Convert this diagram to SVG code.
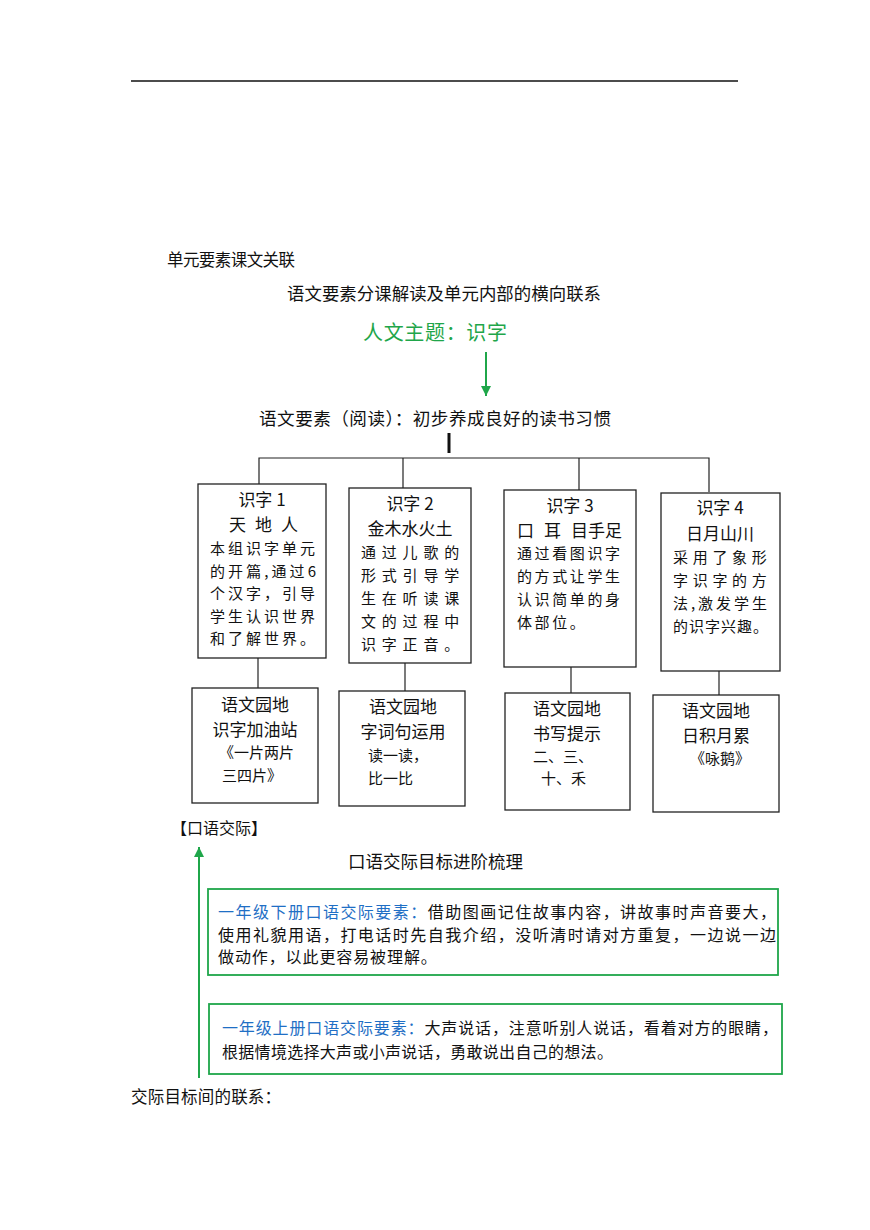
<svg xmlns="http://www.w3.org/2000/svg" width="870" height="1230" viewBox="0 0 870 1230">
<style>
text{font-family:"Noto Sans CJK SC","Liberation Sans",sans-serif;fill:#111}
.h{font-size:16.5px}
.t{font-size:17px;text-anchor:middle}
.b{font-size:15px}
.box{fill:#fff;stroke:#222;stroke-width:1.3}
.gbox{fill:#fff;stroke:#1fa64a;stroke-width:1.8}
.ln{stroke:#222;stroke-width:1.2;fill:none}
.green{fill:#1fa64a}
.blue{fill:#1f6fc5}
.p{font-size:16px}
</style>
<defs>
<marker id="ga" markerWidth="10" markerHeight="10" refX="10" refY="5" orient="auto" markerUnits="userSpaceOnUse" viewBox="0 0 10 10">
<path d="M0,0 L10,5 L0,10 z" fill="#1fa64a"/>
</marker>
</defs>
<line x1="131" y1="81" x2="738" y2="81" stroke="#111" stroke-width="1.3"/>
<text class="h" x="167" y="266" textLength="128" lengthAdjust="spacing">单元要素课文关联</text>
<text class="h" x="287" y="300" style="font-size:17.4px" textLength="314" lengthAdjust="spacing">语文要素分课解读及单元内部的横向联系</text>
<text x="363" y="340" style="font-size:20px" class="green" textLength="144" lengthAdjust="spacing">人文主题：识字</text>
<text class="h" x="259" y="425" style="font-size:17.6px" textLength="352" lengthAdjust="spacing">语文要素（阅读）：初步养成良好的读书习惯</text>

<g id="connectors">
<line x1="486" y1="352" x2="486" y2="396" stroke="#1fa64a" stroke-width="2" marker-end="url(#ga)"/>
<line x1="449" y1="433" x2="449" y2="453" stroke="#111" stroke-width="3"/>
<polyline class="ln" points="259,484 259,458 709,458 709,492"/>
<line class="ln" x1="403" y1="458" x2="403" y2="488"/>
<line class="ln" x1="579" y1="458" x2="579" y2="490"/>
<line class="ln" x1="258" y1="658" x2="258" y2="688"/>
<line class="ln" x1="405" y1="663" x2="405" y2="691"/>
<line class="ln" x1="571" y1="667" x2="571" y2="693"/>
<line class="ln" x1="719" y1="671" x2="719" y2="695"/>
<line x1="199" y1="1078" x2="199" y2="847" stroke="#1fa64a" stroke-width="2" marker-end="url(#ga)"/>
</g>

<g id="n1">
<rect class="box" x="198" y="484" width="128" height="174"/>
<text class="t" x="262" y="506">识字 1</text>
<text class="t" style="text-anchor:start"><tspan x="229" y="531">天</tspan><tspan x="255" y="531">地</tspan><tspan x="281" y="531">人</tspan></text>
<text class="b" x="210" y="554" textLength="105" lengthAdjust="spacing">本组识字单元</text>
<text class="b" x="210" y="577" textLength="106" lengthAdjust="spacing">的开篇,通过6</text>
<text class="b" x="210" y="599" textLength="105" lengthAdjust="spacing">个汉字，引导</text>
<text class="b" x="210" y="622" textLength="105" lengthAdjust="spacing">学生认识世界</text>
<text class="b" x="210" y="644" textLength="105" lengthAdjust="spacing">和了解世界。</text>
</g>

<g id="n2">
<rect class="box" x="349" y="488" width="122" height="175"/>
<text class="t" x="410" y="510">识字 2</text>
<text class="t" x="410" y="535">金木水火土</text>
<text class="b" x="361" y="558" style="letter-spacing:5.8px">通过儿歌的</text>
<text class="b" x="361" y="581" style="letter-spacing:5.8px">形式引导学</text>
<text class="b" x="361" y="604" style="letter-spacing:5.8px">生在听读课</text>
<text class="b" x="361" y="627" style="letter-spacing:5.8px">文的过程中</text>
<text class="b" x="361" y="650" style="letter-spacing:5.8px">识字正音。</text>
</g>

<g id="n3">
<rect class="box" x="504" y="490" width="132" height="177"/>
<text class="t" x="570" y="512">识字 3</text>
<text class="t" style="text-anchor:start"><tspan x="517" y="537">口</tspan><tspan x="544" y="537">耳</tspan><tspan x="571" y="537">目手足</tspan></text>
<text class="b" x="517" y="559" style="letter-spacing:2.6px">通过看图识字</text>
<text class="b" x="517" y="582" style="letter-spacing:2.6px">的方式让学生</text>
<text class="b" x="517" y="605" style="letter-spacing:2.6px">认识简单的身</text>
<text class="b" x="517" y="628" style="letter-spacing:2.6px">体部位。</text>
</g>

<g id="n4">
<rect class="box" x="661" y="493" width="119" height="178"/>
<text class="t" x="720" y="514">识字 4</text>
<text class="t" x="720" y="540">日月山川</text>
<text class="b" x="673" y="563" style="letter-spacing:4.7px">采用了象形</text>
<text class="b" x="673" y="586" style="letter-spacing:4.7px">字识字的方</text>
<text class="b" x="673" y="609" textLength="94" lengthAdjust="spacing">法,激发学生</text>
<text class="b" x="673" y="632" textLength="95" lengthAdjust="spacing">的识字兴趣。</text>
</g>

<g id="l1">
<rect class="box" x="192" y="688" width="126" height="115"/>
<text class="t" x="255" y="711">语文园地</text>
<text class="t" x="255" y="736">识字加油站</text>
<text class="b" x="219" y="758">《一片两片</text>
<text class="b" x="222" y="781">三四片》</text>
</g>

<g id="l2">
<rect class="box" x="339" y="691" width="126" height="115"/>
<text class="t" x="403" y="713">语文园地</text>
<text class="t" x="403" y="738">字词句运用</text>
<text class="b" x="368" y="761">读一读，</text>
<text class="b" x="368" y="784">比一比</text>
</g>

<g id="l3">
<rect class="box" x="505" y="693" width="125" height="117"/>
<text class="t" x="567" y="715">语文园地</text>
<text class="t" x="567" y="740">书写提示</text>
<text class="b" x="533" y="762">二、三、</text>
<text class="b" x="541" y="784">十、禾</text>
</g>

<g id="l4">
<rect class="box" x="653" y="695" width="126" height="117"/>
<text class="t" x="716" y="717">语文园地</text>
<text class="t" x="716" y="742">日积月累</text>
<text class="b" x="720" y="764" text-anchor="middle">《咏鹅》</text>
</g>

<text class="h" x="171" y="834" style="font-size:16px">【口语交际】</text>
<text class="h" x="348" y="868" style="font-size:17.5px">口语交际目标进阶梳理</text>

<g id="g1">
<rect class="gbox" x="208" y="889" width="570" height="86"/>
<text class="p" x="218" y="918" textLength="558" lengthAdjust="spacing"><tspan class="blue">一年级下册口语交际要素：</tspan>借助图画记住故事内容，讲故事时声音要大，</text>
<text class="p" x="218" y="941" textLength="558" lengthAdjust="spacing">使用礼貌用语，打电话时先自我介绍，没听清时请对方重复，一边说一边</text>
<text class="p" x="218" y="963" style="letter-spacing:0.9px">做动作，以此更容易被理解。</text>
</g>

<g id="g2">
<rect class="gbox" x="209" y="1004" width="573" height="70"/>
<text class="p" x="222" y="1034" textLength="556" lengthAdjust="spacing"><tspan class="blue">一年级上册口语交际要素：</tspan>大声说话，注意听别人说话，看着对方的眼睛，</text>
<text class="p" x="222" y="1058" style="letter-spacing:0.3px">根据情境选择大声或小声说话，勇敢说出自己的想法。</text>
</g>

<text class="h" x="131" y="1103" textLength="150" lengthAdjust="spacing">交际目标间的联系：</text>
</svg>
